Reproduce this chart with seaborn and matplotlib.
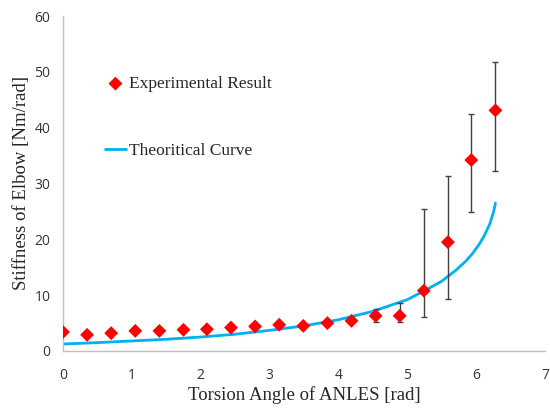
import numpy as np
import pandas as pd
import seaborn as sns
import matplotlib
matplotlib.use("Agg")
import matplotlib.pyplot as plt

# experimental points
angle = [0, 0.35, 0.70, 1.05, 1.40, 1.75, 2.09, 2.44, 2.79, 3.14,
         3.49, 3.84, 4.19, 4.54, 4.89, 5.24, 5.59, 5.93, 6.28]
stiff = [3.4, 2.9, 3.2, 3.6, 3.6, 3.8, 3.9, 4.2, 4.4, 4.7,
         4.5, 5.0, 5.4, 6.3, 6.3, 10.8, 19.5, 34.2, 43.1]
err_low = [0, 0, 0, 0, 0, 0, 0, 0, 0, 0,
           0, 0, 0, 1.1, 1.1, 4.7, 10.1, 9.3, 10.9]
err_high = [0, 0, 0, 0, 0, 0, 0, 0, 0, 0,
            0, 0, 0, 1.2, 2.3, 14.7, 11.9, 8.2, 8.6]

# theoretical curve
theo_x = [0, 0.5, 1.0, 1.5, 2.0, 2.5, 3.0, 3.5, 4.0, 4.5, 5.0,
          5.25, 5.5, 5.7, 5.85, 5.95, 6.05, 6.12, 6.2, 6.25, 6.28]
theo_y = [1.25, 1.5, 1.8, 2.1, 2.5, 3.0, 3.7, 4.5, 5.6, 7.1, 9.2,
          10.8, 12.5, 14.4, 16.1, 17.5, 19.2, 20.7, 22.8, 24.8, 26.5]

exp_df = pd.DataFrame({"angle": angle, "stiff": stiff})
theo_df = pd.DataFrame({"angle": theo_x, "stiff": theo_y})

sns.set_style("white")
fig = plt.figure(figsize=(5.5, 4.08), dpi=100)
ax = fig.add_axes([63/550, 57/408, 482/550, 335/408])

sns.lineplot(data=theo_df, x="angle", y="stiff", ax=ax, color="#00b0f0",
             linewidth=2, label="Theoritical Curve", zorder=2)
ax.errorbar(angle, stiff, yerr=[err_low, err_high], fmt="none",
            ecolor="#404040", elinewidth=1, capsize=2.5, capthick=1, zorder=3)
sns.scatterplot(data=exp_df, x="angle", y="stiff", ax=ax, marker="D",
                color="#ff0000", s=50, edgecolor="none",
                label="Experimental Result", zorder=4)

ax.set_xlim(0, 7)
ax.set_ylim(0, 60)
ax.set_xticks(range(0, 8))
ax.set_yticks(range(0, 61, 10))

for lab in ax.get_xticklabels() + ax.get_yticklabels():
    lab.set_fontfamily("Open Sans")
    lab.set_fontsize(10)
    lab.set_color("#333333")
ax.tick_params(axis="x", length=0, pad=12)
ax.tick_params(axis="y", length=0, pad=9)

for side in ["top", "right"]:
    ax.spines[side].set_visible(False)
for side in ["left", "bottom"]:
    ax.spines[side].set_color("#c0c0c0")
    ax.spines[side].set_linewidth(1)

ax.set_xlabel("Torsion Angle of ANLES [rad]", fontfamily="Liberation Serif",
              fontsize=13.5, labelpad=2.5)
ax.set_ylabel("Stiffness of Elbow [Nm/rad]", fontfamily="Liberation Serif",
              fontsize=13.5, labelpad=3)

handles, labels = ax.get_legend_handles_labels()
order = [labels.index("Experimental Result"), labels.index("Theoritical Curve")]
ax.legend([handles[i] for i in order], [labels[i] for i in order],
          loc="upper left", bbox_to_anchor=(105/550, 1 - 76/408),
          bbox_transform=fig.transFigure, frameon=False, borderpad=0,
          borderaxespad=0, labelspacing=2.9, handlelength=1.2,
          handletextpad=0.2, prop={"family": "Liberation Serif", "size": 12.5})

fig.savefig("out.png", dpi=100)
